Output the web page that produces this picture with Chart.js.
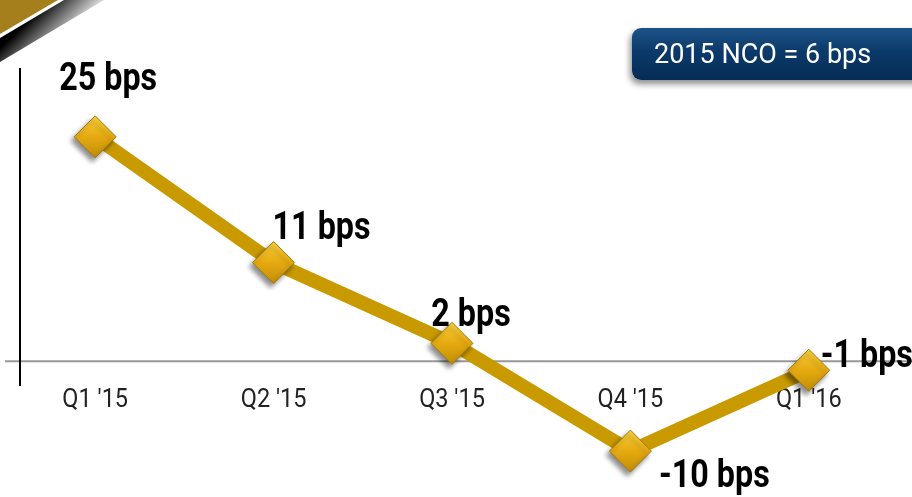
<!DOCTYPE html>
<html>
<head>
<meta charset="utf-8">
<script src="https://cdn.jsdelivr.net/npm/chart.js@4"></script>
<style>
  html, body { margin: 0; padding: 0; background: #fff; }
  #wrap { position: relative; width: 912px; height: 497px; overflow: hidden; }
  #note {
    position: absolute; left: 632px; top: 28px; width: 300px; height: 52px;
    border-radius: 9px;
    background: linear-gradient(#1d5288, #0b3a6a 45%, #062c55);
    box-shadow: -2px 4px 6px rgba(0,0,0,0.45);
    color: #fff; font: 27px Roboto, sans-serif;
    line-height: 52px; padding-left: 22px; box-sizing: border-box;
  }
  #note span { display: inline-block; transform: scaleX(1.0); transform-origin: left center; }
</style>
</head>
<body>
<div id="wrap">
  <canvas id="c" width="912" height="497"></canvas>
  <div id="note"><span>2015 NCO = 6 bps</span></div>
</div>
<script>
// 季度标签与数值
const quarters = ["Q1 '15", "Q2 '15", "Q3 '15", "Q4 '15", "Q1 '16"];
const ncoBps = [25, 11, 2, -10, -1];
const valueLabels = ['25 bps', '11 bps', '2 bps', '-10 bps', '-1 bps'];

// 标签相对于点的偏移
const labelOffsets = [[13, -56], [48, -33], [19, -27], [84, 26], [58, -13]];

// 横向压缩的文字
function narrowText(ctx, text, x, y, sx) {
  ctx.save();
  ctx.translate(x, y);
  ctx.scale(sx, 1);
  ctx.fillText(text, 0, 0);
  ctx.restore();
}

const decorPlugin = {
  id: 'decor',
  beforeDraw(chart) {
    const ctx = chart.ctx;
    // 左上角金色三角和阴影
    ctx.save();
    const g = ctx.createLinearGradient(30, 18, 62, 50);
    g.addColorStop(0, 'rgba(0,0,0,1)');
    g.addColorStop(1, 'rgba(0,0,0,0)');
    ctx.fillStyle = g;
    ctx.beginPath();
    ctx.moveTo(0, 0); ctx.lineTo(104, 0); ctx.lineTo(0, 62); ctx.closePath();
    ctx.fill();
    ctx.fillStyle = '#fff';
    ctx.beginPath();
    ctx.moveTo(0, 0); ctx.lineTo(64, 0); ctx.lineTo(0, 38); ctx.closePath();
    ctx.fill();
    ctx.fillStyle = '#a57f1c';
    ctx.beginPath();
    ctx.moveTo(0, 0); ctx.lineTo(58, 0); ctx.lineTo(0, 34); ctx.closePath();
    ctx.fill();

    // 零线和竖线
    const y0 = chart.scales.y.getPixelForValue(0);
    ctx.strokeStyle = '#999';
    ctx.lineWidth = 2;
    ctx.beginPath(); ctx.moveTo(5, y0); ctx.lineTo(chart.width, y0); ctx.stroke();
    ctx.strokeStyle = '#000';
    ctx.lineWidth = 2;
    ctx.beginPath(); ctx.moveTo(20, 68); ctx.lineTo(20, 386); ctx.stroke();

    // 季度标签
    const xs = chart.scales.x;
    ctx.fillStyle = '#222';
    ctx.font = '25px Roboto, sans-serif';
    ctx.textAlign = 'center';
    ctx.textBaseline = 'middle';
    quarters.forEach((q, i) => {
      narrowText(ctx, q, xs.getPixelForValue(i), y0 + 39, 0.94);
    });
    ctx.restore();
  },
  beforeDatasetDraw(chart, args) {
    if (args.index === 1) {
      const ctx = chart.ctx;
      ctx.save();
      ctx.shadowColor = 'rgba(0,0,0,0.45)';
      ctx.shadowBlur = 5;
      ctx.shadowOffsetX = -3;
      ctx.shadowOffsetY = 4;
    }
  },
  afterDatasetDraw(chart, args) {
    if (args.index === 1) chart.ctx.restore();
  },
  afterDatasetsDraw(chart) {
    const ctx = chart.ctx;
    const meta = chart.getDatasetMeta(1);
    ctx.save();
    ctx.fillStyle = '#000';
    ctx.font = 'bold 38px Roboto, sans-serif';
    ctx.textAlign = 'center';
    ctx.textBaseline = 'middle';
    meta.data.forEach((pt, i) => {
      const [dx, dy] = labelOffsets[i];
      narrowText(ctx, valueLabels[i], pt.x + dx, pt.y + dy, 0.85);
    });
    ctx.restore();
  }
};

function diamondFill(context) {
  const chart = context.chart;
  if (!chart.chartArea || context.dataIndex === undefined) return '#e0a810';
  const x = chart.scales.x.getPixelForValue(context.dataIndex);
  const y = chart.scales.y.getPixelForValue(ncoBps[context.dataIndex]);
  const g = chart.ctx.createLinearGradient(x, y - 20, x, y + 20);
  g.addColorStop(0, '#f7cc3a');
  g.addColorStop(0.5, '#e6aa10');
  g.addColorStop(1, '#c48e08');
  return g;
}

new Chart(document.getElementById('c'), {
  type: 'line',
  data: {
    labels: quarters,
    datasets: [
      {
        data: ncoBps,
        order: 2,
        borderColor: '#c99a00',
        borderWidth: 14,
        borderJoinStyle: 'round',
        pointRadius: 0,
        tension: 0
      },
      {
        data: ncoBps,
        order: 1,
        showLine: false,
        pointStyle: 'rectRot',
        pointRadius: 21,
        pointHoverRadius: 21,
        pointBackgroundColor: diamondFill,
        pointBorderColor: '#9c7a10',
        pointBorderWidth: 1
      }
    ]
  },
  options: {
    responsive: false,
    animation: false,
    layout: { autoPadding: false, padding: { left: 6, right: 14, top: 74, bottom: 1 } },
    plugins: { legend: { display: false }, tooltip: { enabled: false } },
    scales: {
      x: { display: false, offset: true },
      y: { display: false, min: -15, max: 32 }
    }
  },
  plugins: [decorPlugin]
});
</script>
</body>
</html>
